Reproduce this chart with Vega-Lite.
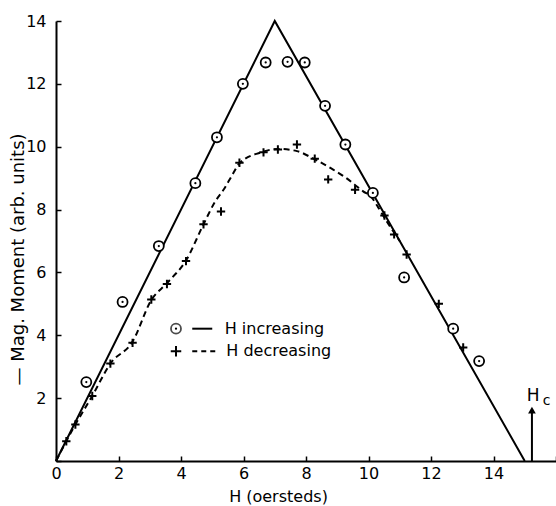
{
  "$schema": "https://vega.github.io/schema/vega-lite/v6.json",
  "width": 500,
  "height": 440,
  "autosize": {"type": "none"},
  "padding": {"left": 56, "top": 21, "right": 0, "bottom": 45},
  "background": "white",
  "config": {"view": {"stroke": null}, "font": "DejaVu Sans"},
  "datasets": {
    "solid": [
      {"H": 0, "M": 0, "o": 1},
      {"H": 7, "M": 14, "o": 2},
      {"H": 15, "M": 0, "o": 3}
    ],
    "dashed": [
      {"H": 0, "M": 0, "o": 1},
      {"H": 0.62, "M": 1.16, "o": 2},
      {"H": 1.16, "M": 2.07, "o": 3},
      {"H": 1.74, "M": 3.1, "o": 4},
      {"H": 2.45, "M": 3.8, "o": 5},
      {"H": 3.05, "M": 5.12, "o": 6},
      {"H": 3.55, "M": 5.66, "o": 7},
      {"H": 4.16, "M": 6.38, "o": 8},
      {"H": 4.72, "M": 7.53, "o": 9},
      {"H": 5.09, "M": 8.25, "o": 10},
      {"H": 5.36, "M": 8.63, "o": 11},
      {"H": 5.63, "M": 9.08, "o": 12},
      {"H": 5.87, "M": 9.47, "o": 13},
      {"H": 6.53, "M": 9.81, "o": 14},
      {"H": 7.1, "M": 9.93, "o": 15},
      {"H": 7.71, "M": 9.86, "o": 16},
      {"H": 8.24, "M": 9.62, "o": 17},
      {"H": 8.82, "M": 9.3, "o": 18},
      {"H": 9.25, "M": 9.03, "o": 19},
      {"H": 9.55, "M": 8.8, "o": 20},
      {"H": 9.83, "M": 8.58, "o": 21},
      {"H": 10.1, "M": 8.39, "o": 22},
      {"H": 10.31, "M": 8.07, "o": 23},
      {"H": 10.6, "M": 7.6, "o": 24},
      {"H": 11.0, "M": 7.0, "o": 25}
    ],
    "increasing": [
      {"H": 0.97, "M": 2.51},
      {"H": 2.13, "M": 5.06},
      {"H": 3.29, "M": 6.84},
      {"H": 4.46, "M": 8.84},
      {"H": 5.15, "M": 10.3},
      {"H": 5.98, "M": 12.0},
      {"H": 6.71, "M": 12.68},
      {"H": 7.41, "M": 12.7},
      {"H": 7.96, "M": 12.68},
      {"H": 8.61, "M": 11.3},
      {"H": 9.26, "M": 10.07},
      {"H": 10.14, "M": 8.53},
      {"H": 11.14, "M": 5.84},
      {"H": 12.71, "M": 4.21},
      {"H": 13.54, "M": 3.18}
    ],
    "decreasing": [
      {"H": 0.33, "M": 0.63},
      {"H": 0.62, "M": 1.16},
      {"H": 1.16, "M": 2.07},
      {"H": 1.74, "M": 3.1},
      {"H": 2.45, "M": 3.76},
      {"H": 3.05, "M": 5.14},
      {"H": 3.55, "M": 5.63},
      {"H": 4.16, "M": 6.36},
      {"H": 4.72, "M": 7.53},
      {"H": 5.28, "M": 7.94},
      {"H": 5.87, "M": 9.49},
      {"H": 6.64, "M": 9.82},
      {"H": 7.1, "M": 9.91},
      {"H": 7.71, "M": 10.07},
      {"H": 8.28, "M": 9.62},
      {"H": 8.71, "M": 8.96},
      {"H": 9.57, "M": 8.63},
      {"H": 10.51, "M": 7.81},
      {"H": 10.82, "M": 7.21},
      {"H": 11.22, "M": 6.57},
      {"H": 12.25, "M": 5.0},
      {"H": 13.03, "M": 3.61}
    ],
    "legendCircle": [{"H": 3.84, "M": 4.21}],
    "legendPlus": [{"H": 3.84, "M": 3.49}],
    "legendSolid": [{"H": 4.36, "H2": 5.0, "M": 4.21}],
    "legendDashed": [{"H": 4.36, "H2": 5.22, "M": 3.49}],
    "legendText": [
      {"H": 5.4, "M": 4.21, "label": "H increasing"},
      {"H": 5.45, "M": 3.49, "label": "H decreasing"}
    ],
    "hcArrow": [{"H": 15.23, "M": 0, "M2": 1.6}],
    "hcHead": [{"H": 15.23, "M": 1.62}],
    "hcH": [{"H": 15.27, "M": 2.08, "label": "H"}],
    "hcC": [{"H": 15.7, "M": 1.9, "label": "c"}]
  },
  "layer": [
    {
      "data": {"name": "solid"},
      "mark": {"type": "line", "color": "black", "strokeWidth": 2},
      "encoding": {
        "x": {
          "field": "H", "type": "quantitative",
          "scale": {"domain": [0, 16], "nice": false, "zero": false},
          "axis": {
            "title": "H (oersteds)",
            "values": [0, 1, 2, 3, 4, 5, 6, 7, 8, 9, 10, 11, 12, 13, 14, 15, 16],
            "labelExpr": "datum.value % 2 == 0 && datum.value < 16 ? datum.label : ''",
            "grid": false,
            "domainColor": "black", "domainWidth": 2,
            "tickColor": "black", "tickWidth": 1.5, "tickSize": -5,
            "labelPadding": 9, "labelFontSize": 16, "labelColor": "black",
            "labelFlush": false, "labelOverlap": false, "labelFont": "DejaVu Sans",
            "titleFontSize": 16, "titleFontWeight": "normal", "titleColor": "black",
            "titleFont": "DejaVu Sans",
            "titleX": 222, "titleY": 35, "titleBaseline": "middle", "titleAlign": "center"
          }
        },
        "y": {
          "field": "M", "type": "quantitative",
          "scale": {"domain": [0, 14], "nice": false, "zero": false},
          "axis": {
            "title": "— Mag. Moment (arb. units)",
            "values": [0, 1, 2, 3, 4, 5, 6, 7, 8, 9, 10, 11, 12, 13, 14],
            "labelExpr": "datum.value % 2 == 0 && datum.value > 0 ? datum.label : ''",
            "grid": false,
            "domainColor": "black", "domainWidth": 2,
            "tickColor": "black", "tickWidth": 1.5, "tickSize": -5,
            "labelPadding": 15, "labelFontSize": 16, "labelColor": "black",
            "labelOverlap": false, "labelFont": "DejaVu Sans",
            "titleFontSize": 18, "titleFontWeight": "normal", "titleColor": "black",
            "titleFont": "DejaVu Sans",
            "titleX": -38, "titleY": 238, "titleBaseline": "middle", "titleAlign": "center"
          }
        },
        "order": {"field": "o", "type": "quantitative"}
      }
    },
    {
      "data": {"name": "dashed"},
      "mark": {"type": "line", "color": "black", "strokeWidth": 2, "strokeDash": [6, 4], "interpolate": "monotone"},
      "encoding": {
        "x": {"field": "H", "type": "quantitative"},
        "y": {"field": "M", "type": "quantitative"},
        "order": {"field": "o", "type": "quantitative"}
      }
    },
    {
      "data": {"name": "increasing"},
      "mark": {"type": "point", "shape": "circle", "filled": false, "stroke": "black", "strokeWidth": 1.8, "size": 100, "fill": "white", "fillOpacity": 1},
      "encoding": {
        "x": {"field": "H", "type": "quantitative"},
        "y": {"field": "M", "type": "quantitative"}
      }
    },
    {
      "data": {"name": "increasing"},
      "mark": {"type": "point", "shape": "circle", "filled": true, "color": "black", "opacity": 1, "size": 5},
      "encoding": {
        "x": {"field": "H", "type": "quantitative"},
        "y": {"field": "M", "type": "quantitative"}
      }
    },
    {
      "data": {"name": "decreasing"},
      "mark": {"type": "point", "shape": "M-1,0L1,0M0,-1L0,1", "filled": false, "stroke": "black", "strokeWidth": 2, "size": 70, "opacity": 1},
      "encoding": {
        "x": {"field": "H", "type": "quantitative"},
        "y": {"field": "M", "type": "quantitative"}
      }
    },
    {
      "data": {"name": "legendCircle"},
      "mark": {"type": "point", "shape": "circle", "filled": false, "stroke": "black", "strokeWidth": 1.8, "size": 100},
      "encoding": {
        "x": {"field": "H", "type": "quantitative"},
        "y": {"field": "M", "type": "quantitative"}
      }
    },
    {
      "data": {"name": "legendCircle"},
      "mark": {"type": "point", "shape": "circle", "filled": true, "color": "black", "opacity": 1, "size": 5},
      "encoding": {
        "x": {"field": "H", "type": "quantitative"},
        "y": {"field": "M", "type": "quantitative"}
      }
    },
    {
      "data": {"name": "legendPlus"},
      "mark": {"type": "point", "shape": "M-1,0L1,0M0,-1L0,1", "filled": false, "stroke": "black", "strokeWidth": 2, "size": 110, "opacity": 1},
      "encoding": {
        "x": {"field": "H", "type": "quantitative"},
        "y": {"field": "M", "type": "quantitative"}
      }
    },
    {
      "data": {"name": "legendSolid"},
      "mark": {"type": "rule", "color": "black", "strokeWidth": 2},
      "encoding": {
        "x": {"field": "H", "type": "quantitative"},
        "x2": {"field": "H2"},
        "y": {"field": "M", "type": "quantitative"}
      }
    },
    {
      "data": {"name": "legendDashed"},
      "mark": {"type": "rule", "color": "black", "strokeWidth": 2, "strokeDash": [5, 4]},
      "encoding": {
        "x": {"field": "H", "type": "quantitative"},
        "x2": {"field": "H2"},
        "y": {"field": "M", "type": "quantitative"}
      }
    },
    {
      "data": {"name": "legendText"},
      "mark": {"type": "text", "align": "left", "baseline": "middle", "fontSize": 16, "font": "DejaVu Sans", "color": "black"},
      "encoding": {
        "x": {"field": "H", "type": "quantitative"},
        "y": {"field": "M", "type": "quantitative"},
        "text": {"field": "label"}
      }
    },
    {
      "data": {"name": "hcArrow"},
      "mark": {"type": "rule", "color": "black", "strokeWidth": 2},
      "encoding": {
        "x": {"field": "H", "type": "quantitative"},
        "y": {"field": "M", "type": "quantitative"},
        "y2": {"field": "M2"}
      }
    },
    {
      "data": {"name": "hcHead"},
      "mark": {"type": "point", "shape": "triangle-up", "filled": true, "color": "black", "opacity": 1, "size": 60},
      "encoding": {
        "x": {"field": "H", "type": "quantitative"},
        "y": {"field": "M", "type": "quantitative"}
      }
    },
    {
      "data": {"name": "hcH"},
      "mark": {"type": "text", "align": "center", "baseline": "middle", "fontSize": 17, "font": "DejaVu Sans", "color": "black"},
      "encoding": {
        "x": {"field": "H", "type": "quantitative"},
        "y": {"field": "M", "type": "quantitative"},
        "text": {"field": "label"}
      }
    },
    {
      "data": {"name": "hcC"},
      "mark": {"type": "text", "align": "center", "baseline": "middle", "fontSize": 14, "font": "DejaVu Sans", "color": "black"},
      "encoding": {
        "x": {"field": "H", "type": "quantitative"},
        "y": {"field": "M", "type": "quantitative"},
        "text": {"field": "label"}
      }
    }
  ]
}
